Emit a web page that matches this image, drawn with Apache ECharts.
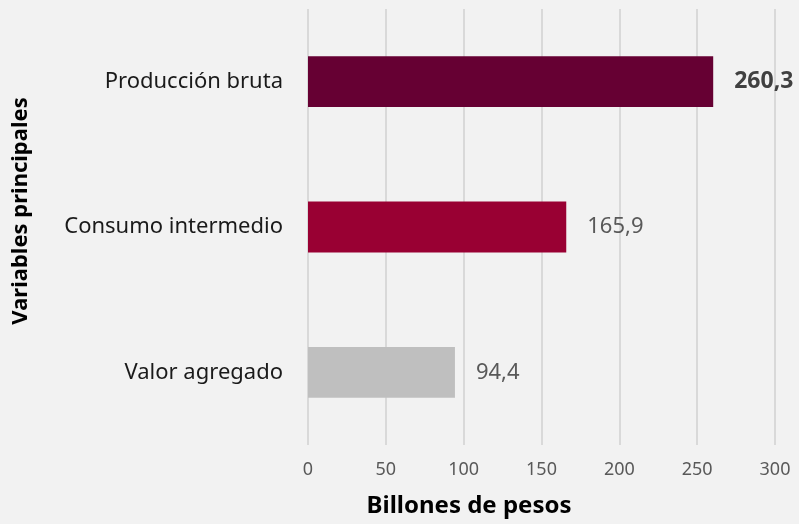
<!DOCTYPE html>
<html>
<head>
<meta charset="utf-8">
<script src="https://cdn.jsdelivr.net/npm/echarts@6/dist/echarts.min.js"></script>
<style>
  html, body { margin: 0; padding: 0; background: #f2f2f2; }
  #main { width: 799px; height: 524px; }
</style>
</head>
<body>
<div id="main"></div>
<script>
// datos del gráfico
const categorias = ['Valor agregado', 'Consumo intermedio', 'Producción bruta']
const valores = [94.4, 165.9, 260.3]
const colores = ['#bfbfbf', '#990033', '#660033']
const ticksX = [0, 50, 100, 150, 200, 250, 300]

const fuente = 'Noto Sans'

const chart = echarts.init(document.getElementById('main'))

const option = {
  backgroundColor: '#f2f2f2',
  textStyle: { fontFamily: fuente },
  grid: {
    left: 308,
    right: 24,
    top: 9,
    bottom: 79
  },
  xAxis: {
    type: 'value',
    min: ticksX[0],
    max: ticksX[ticksX.length - 1],
    interval: 50,
    axisLine: { show: false },
    axisTick: { show: false },
    axisLabel: { color: '#595959', fontSize: 18, margin: 16, fontFamily: fuente },
    splitLine: { lineStyle: { color: '#d9d9d9', width: 2 } }
  },
  yAxis: {
    type: 'category',
    data: categorias,
    axisLine: { show: false },
    axisTick: { show: false },
    axisLabel: { color: '#1a1a1a', fontSize: 22, margin: 25, fontFamily: fuente }
  },
  series: [
    {
      type: 'bar',
      barWidth: '35%',
      data: valores.map((v, i) => ({
        value: v,
        itemStyle: { color: colores[i] },
        label: i === 2
          ? { fontWeight: 'bold', color: '#404040', fontSize: 23 }
          : { fontWeight: 'normal', color: '#595959' }
      })),
      label: {
        show: true,
        position: 'right',
        distance: 21,
        fontSize: 22,
        fontFamily: fuente,
        formatter: p => p.value.toFixed(1).replace('.', ',')
      }
    }
  ],
  graphic: [
    {
      type: 'text',
      x: 469,
      y: 506,
      style: {
        text: 'Billones de pesos',
        font: 'bold 24px "Noto Sans"',
        fill: '#000',
        align: 'center',
        verticalAlign: 'middle'
      }
    },
    {
      type: 'text',
      x: 21,
      y: 211,
      rotation: Math.PI / 2,
      style: {
        text: 'Variables principales',
        font: 'bold 22px "Noto Sans"',
        fill: '#000',
        align: 'center',
        verticalAlign: 'middle'
      }
    }
  ]
}

chart.setOption(option)
</script>
</body>
</html>
